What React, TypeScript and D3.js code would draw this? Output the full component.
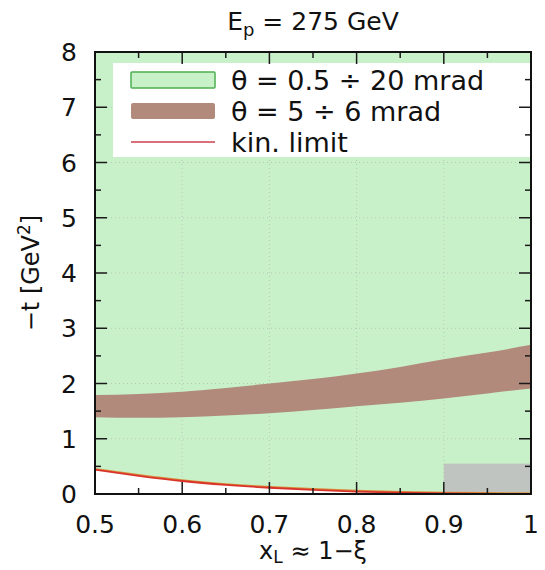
import { useEffect } from 'react';
import * as d3 from 'd3';

// band of theta = 5..6 mrad
const bandX = [0.5, 0.55, 0.6, 0.65, 0.7, 0.75, 0.8, 0.85, 0.9, 0.95, 1.0];
const bandLow = [1.39, 1.38, 1.39, 1.42, 1.46, 1.52, 1.59, 1.65, 1.73, 1.82, 1.91];
const bandHigh = [1.79, 1.81, 1.85, 1.92, 2.0, 2.08, 2.18, 2.3, 2.44, 2.56, 2.7];

// kinematic limit
const kinX = [0.5, 0.55, 0.6, 0.65, 0.7, 0.75, 0.8, 0.85, 0.9, 0.95, 1.0];
const kinT = [0.44, 0.33, 0.235, 0.165, 0.113, 0.075, 0.044, 0.024, 0.01, 0.003, 0];

// grey box in the corner
const greyBox = { x0: 0.9, x1: 1.0, t0: 0.03, t1: 0.55 };

const xTicks = [0.5, 0.6, 0.7, 0.8, 0.9, 1.0];
const xTickLabels = ['0.5', '0.6', '0.7', '0.8', '0.9', '1'];
const yTicks = [0, 1, 2, 3, 4, 5, 6, 7, 8];

const legendLabels = ['θ = 0.5 ÷ 20 mrad', 'θ = 5 ÷ 6 mrad', 'kin. limit'];

const W = 545;
const H = 570;
const margin = { top: 52, right: 14, bottom: 76, left: 95 };
const font = 'DejaVu Sans, sans-serif';

export default function App() {
  useEffect(() => {
    document.body.style.margin = '0';
  }, []);

  const innerW = W - margin.left - margin.right;
  const innerH = H - margin.top - margin.bottom;
  const x = d3.scaleLinear().domain([0.5, 1]).range([0, innerW]);
  const y = d3.scaleLinear().domain([0, 8]).range([innerH, 0]);

  const band = bandX.map((v, i) => ({ x: v, lo: bandLow[i], hi: bandHigh[i] }));
  const kin = kinX.map((v, i) => ({ x: v, t: kinT[i] }));

  const bandArea = d3
    .area<{ x: number; lo: number; hi: number }>()
    .x((d) => x(d.x))
    .y0((d) => y(d.lo))
    .y1((d) => y(d.hi))
    .curve(d3.curveMonotoneX);

  const greenArea = d3
    .area<{ x: number; t: number }>()
    .x((d) => x(d.x))
    .y0((d) => y(d.t))
    .y1(() => y(8))
    .curve(d3.curveMonotoneX);

  const kinLine = d3
    .line<{ x: number; t: number }>()
    .x((d) => x(d.x))
    .y((d) => y(d.t))
    .curve(d3.curveMonotoneX);

  const xMinor = d3.range(0.55, 1, 0.1);
  const yMinor = d3.range(0.5, 8, 1);

  const tickCol = '#1a1a1a';

  return (
    <svg width={W} height={H} style={{ display: 'block' }} fontFamily={font}>
      <rect width={W} height={H} fill="#fff" />
      <text x={margin.left + innerW / 2} y={30} textAnchor="middle" fontSize={25} fill="#111">
        E<tspan fontSize={18} dy={6}>p</tspan>
        <tspan dy={-6}> = 275 GeV</tspan>
      </text>

      <g transform={`translate(${margin.left},${margin.top})`}>
        <path d={greenArea(kin) ?? ''} fill="#c9f1c9" />

        {/* grid */}
        {xTicks.slice(1, -1).map((t) => (
          <line key={`gx${t}`} x1={x(t)} x2={x(t)} y1={0} y2={innerH}
            stroke="#b8c8b8" strokeWidth={1} strokeDasharray="1,3" />
        ))}
        {yTicks.slice(1, -1).map((t) => (
          <line key={`gy${t}`} x1={0} x2={innerW} y1={y(t)} y2={y(t)}
            stroke="#b8c8b8" strokeWidth={1} strokeDasharray="1,3" />
        ))}

        <rect x={x(greyBox.x0)} y={y(greyBox.t1)} width={x(greyBox.x1) - x(greyBox.x0)}
          height={y(greyBox.t0) - y(greyBox.t1)} fill="#c0c4c0" />

        <path d={bandArea(band) ?? ''} fill="#b28a7c" />

        <path d={kinLine(kin) ?? ''} fill="none" stroke="#d98a3a" strokeWidth={1.5} transform="translate(0,-1)" />
        <path d={kinLine(kin) ?? ''} fill="none" stroke="#d9342a" strokeWidth={1.8} />

        {/* legend */}
        <rect x={x(0.5) + 18} y={y(8) + 11} width={innerW - 18} height={94} fill="#fff" />
        <rect x={36} y={20} width={84} height={16} fill="#c9f1c9" stroke="#4caf50" strokeWidth={1.5} rx={1} />
        <rect x={36} y={51} width={84} height={16} fill="#b28a7c" rx={2} />
        <line x1={36} x2={120} y1={90} y2={90} stroke="#d9707a" strokeWidth={2} />
        {legendLabels.map((l, i) => (
          <text key={l} x={136} y={28 + i * 31} dy="0.36em" fontSize={27} fill="#111">
            {l}
          </text>
        ))}

        {/* ticks on all sides */}
        {xTicks.map((t) => (
          <g key={`tx${t}`}>
            <line x1={x(t)} x2={x(t)} y1={innerH} y2={innerH - 12} stroke={tickCol} strokeWidth={1.5} />
            <line x1={x(t)} x2={x(t)} y1={0} y2={12} stroke={tickCol} strokeWidth={1.5} />
          </g>
        ))}
        {xMinor.map((t) => (
          <g key={`mx${t}`}>
            <line x1={x(t)} x2={x(t)} y1={innerH} y2={innerH - 6} stroke={tickCol} strokeWidth={1.5} />
            <line x1={x(t)} x2={x(t)} y1={0} y2={6} stroke={tickCol} strokeWidth={1.5} />
          </g>
        ))}
        {yTicks.map((t) => (
          <g key={`ty${t}`}>
            <line x1={0} x2={12} y1={y(t)} y2={y(t)} stroke={tickCol} strokeWidth={1.5} />
            <line x1={innerW} x2={innerW - 12} y1={y(t)} y2={y(t)} stroke={tickCol} strokeWidth={1.5} />
          </g>
        ))}
        {yMinor.map((t) => (
          <g key={`my${t}`}>
            <line x1={0} x2={6} y1={y(t)} y2={y(t)} stroke={tickCol} strokeWidth={1.5} />
            <line x1={innerW} x2={innerW - 6} y1={y(t)} y2={y(t)} stroke={tickCol} strokeWidth={1.5} />
          </g>
        ))}

        <rect x={0} y={0} width={innerW} height={innerH} fill="none" stroke="#111" strokeWidth={2} />

        {/* tick labels */}
        {xTicks.map((t, i) => (
          <text key={`lx${t}`} x={x(t)} y={innerH + 39} textAnchor="middle" fontSize={25} fill="#111">
            {xTickLabels[i]}
          </text>
        ))}
        {yTicks.map((t) => (
          <text key={`ly${t}`} x={-18} y={y(t)} dy="0.36em" textAnchor="end" fontSize={25} fill="#111">
            {t}
          </text>
        ))}
      </g>

      <text x={margin.left + innerW / 2} y={559} textAnchor="middle" fontSize={24} fill="#111">
        x<tspan fontSize={17} dy={4}>L</tspan>
        <tspan dy={-4}> ≈ 1−ξ</tspan>
      </text>
      <text transform={`translate(30,273) rotate(-90)`} textAnchor="middle" dy="0.36em" fontSize={24} fill="#111">
        −t [GeV<tspan fontSize={17} dy={-9}>2</tspan>
        <tspan dy={9}>]</tspan>
      </text>
    </svg>
  );
}
